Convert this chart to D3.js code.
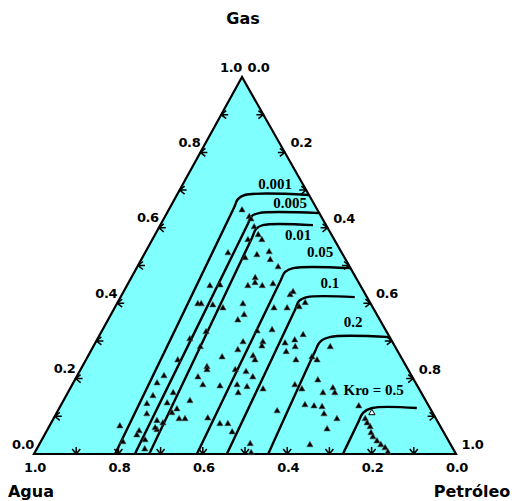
<!DOCTYPE html>
<html>
<head>
<meta charset="utf-8">
<script src="https://cdn.jsdelivr.net/npm/d3@7"></script>
<style>
  html, body { margin: 0; padding: 0; background: #ffffff; }
  svg { display: block; }
</style>
</head>
<body>
<svg id="chart" width="512" height="501"></svg>
<script>
// ---- Data -----------------------------------------------------------------
// Oil relative permeability isoperms, each as [So, Sg] pairs (Sw = 1 - So - Sg)
const kroLabels = ["0.001", "0.005", "0.01", "0.05", "0.1", "0.2", "Kro = 0.5"];
const kro0001 = [[0.192, 0], [0.152, 0.653], [0.150, 0.676], [0.161, 0.687], [0.313, 0.687]];
const kro0005 = [[0.239, 0], [0.206, 0.610], [0.205, 0.631], [0.218, 0.639], [0.361, 0.639]];
const kro001  = [[0.273, 0], [0.234, 0.573], [0.232, 0.597], [0.243, 0.607], [0.362, 0.607]];
const kro005  = [[0.386, 0], [0.358, 0.456], [0.357, 0.483], [0.371, 0.493], [0.507, 0.493]];
const kro01   = [[0.457, 0], [0.430, 0.382], [0.428, 0.406], [0.442, 0.416], [0.555, 0.416]];
const kro02   = [[0.555, 0], [0.532, 0.271], [0.531, 0.297], [0.548, 0.310], [0.690, 0.310]];
const kro05   = [[0.732, 0], [0.727, 0.082], [0.726, 0.109], [0.741, 0.122], [0.847, 0.122]];
// where each isoperm value is written, as [So, Sg]
const kroLabelSo = [0.225, 0.285, 0.346, 0.420, 0.484, 0.590, 0.728];
const kroLabelSg = [0.703, 0.653, 0.568, 0.523, 0.440, 0.337, 0.156];

// Measured saturation states (filled triangles)
const sampleSo = [
  0.174, 0.200, 0.207, 0.225, 0.245, 0.260, 0.227, 0.268, 0.293, 0.306,
  0.334, 0.244, 0.294, 0.197, 0.220, 0.197, 0.287, 0.300, 0.321, 0.344,
  0.399, 0.402, 0.192, 0.200, 0.229, 0.257, 0.299, 0.316, 0.308, 0.378,
  0.409, 0.436, 0.445, 0.248, 0.368, 0.402, 0.349, 0.396, 0.399, 0.450,
  0.469, 0.482, 0.347, 0.464, 0.219, 0.254, 0.479, 0.562, 0.319, 0.391,
  0.401, 0.498, 0.532, 0.548, 0.218, 0.296, 0.300, 0.367, 0.395, 0.418,
  0.288, 0.206, 0.199, 0.310, 0.352, 0.391, 0.404, 0.417, 0.458, 0.528,
  0.550, 0.576, 0.622, 0.605, 0.633, 0.206, 0.250, 0.300, 0.202, 0.249,
  0.280, 0.273, 0.215, 0.248, 0.298, 0.312, 0.365, 0.401, 0.420, 0.441,
  0.520, 0.578, 0.601, 0.621, 0.635, 0.672, 0.707, 0.662, 0.642, 0.167,
  0.219, 0.260, 0.195, 0.245, 0.256, 0.499, 0.513, 0.739, 0.749, 0.761,
  0.771, 0.781, 0.796, 0.810, 0.824, 0.836, 0.265, 0.253, 0.219
];
const sampleSg = [
  0.647, 0.629, 0.623, 0.602, 0.581, 0.568, 0.568, 0.528, 0.536, 0.515,
  0.496, 0.520, 0.467, 0.533, 0.448, 0.446, 0.446, 0.454, 0.446, 0.451,
  0.422, 0.430, 0.398, 0.398, 0.395, 0.387, 0.398, 0.369, 0.355, 0.387,
  0.387, 0.390, 0.401, 0.324, 0.326, 0.329, 0.297, 0.297, 0.286, 0.294,
  0.302, 0.316, 0.276, 0.271, 0.305, 0.284, 0.284, 0.284, 0.257, 0.260,
  0.249, 0.249, 0.257, 0.249, 0.249, 0.231, 0.223, 0.223, 0.218, 0.204,
  0.204, 0.207, 0.188, 0.183, 0.180, 0.183, 0.162, 0.178, 0.172, 0.183,
  0.172, 0.196, 0.175, 0.162, 0.162, 0.154, 0.162, 0.141, 0.133, 0.135,
  0.119, 0.109, 0.106, 0.088, 0.093, 0.093, 0.095, 0.080, 0.080, 0.058,
  0.114, 0.130, 0.127, 0.125, 0.106, 0.093, 0.127, 0.066, 0.024, 0.074,
  0.061, 0.064, 0.032, 0.037, 0.013, 0.027, 0.003, 0.093, 0.082, 0.072,
  0.056, 0.045, 0.034, 0.024, 0.016, 0.005, 0.082, 0.069, 0.050
];
// Single open triangle
const openSo = [0.747];
const openSg = [0.109];

// Axis graduations
const majorTicks = [0, 0.2, 0.4, 0.6, 0.8, 1.0];
const majorTickText = ["0.0", "0.2", "0.4", "0.6", "0.8", "1.0"];
const minorTicks = [0.1, 0.2, 0.3, 0.4, 0.5, 0.6, 0.7, 0.8, 0.9];

// ---- Ternary frame --------------------------------------------------------
const cornerWater = { x: 34, y: 454 };
const cornerGas   = { x: 242, y: 77 };
const cornerOil   = { x: 456, y: 454 };

const soShift = d3.scaleLinear().domain([0, 1]).range([0, cornerOil.x - cornerWater.x]);
const sgShift = d3.scaleLinear().domain([0, 1]).range([0, cornerGas.x - cornerWater.x]);
const sgY     = d3.scaleLinear().domain([0, 1]).range([cornerWater.y, cornerGas.y]);

const px = (so, sg) => cornerWater.x + soShift(so) + sgShift(sg);
const py = (so, sg) => sgY(sg);

const svg = d3.select("#chart");
const ink = "#000000";

// Triangle body
const frame = [[0, 0], [1, 0], [0, 1]];
svg.append("path")
  .attr("d", d3.line().x(d => px(d[0], d[1])).y(d => py(d[0], d[1]))(frame) + "Z")
  .attr("fill", "#80ffff")
  .attr("stroke", ink)
  .attr("stroke-width", 2.2)
  .attr("stroke-linejoin", "miter");

// Arrow-style graduations on the three sides
const tickG = svg.append("g")
  .attr("fill", "none").attr("stroke", ink).attr("stroke-width", 1.5);
function arrowTo(x, y, dx, dy) {
  // arrow ending at (x, y), coming from direction (dx, dy)
  const nx = -dy, ny = dx;
  const tail = 7, head = 5, spread = 4;
  return `M${x + dx * tail},${y + dy * tail}L${x},${y}` +
         `M${x + dx * head + nx * spread},${y + dy * head + ny * spread}L${x},${y}` +
         `L${x + dx * head - nx * spread},${y + dy * head - ny * spread}`;
}
minorTicks.forEach(t => {
  // gas side (left)
  tickG.append("path").attr("d", arrowTo(px(0, t), py(0, t), 1, 0));
  // oil side (right)
  tickG.append("path").attr("d", arrowTo(px(t, 1 - t), py(t, 1 - t), -1, 0));
  // water side (bottom)
  tickG.append("path").attr("d", arrowTo(px(1 - t, 0), py(1 - t, 0), 0, -1));
});

// Graduation labels
const lab = svg.append("g")
  .attr("font-family", "'DejaVu Sans', Verdana, sans-serif")
  .attr("font-weight", "bold")
  .attr("font-size", 13)
  .attr("letter-spacing", -0.4)
  .attr("fill", ink)
  .attr("text-anchor", "middle");
majorTicks.forEach((t, i) => {
  lab.append("text").attr("x", px(0, t) - 11).attr("y", py(0, t) - 5.5).text(majorTickText[i]);
  lab.append("text").attr("x", px(t, 1 - t) + 16.5).attr("y", py(t, 1 - t) - 5).text(majorTickText[i]);
  lab.append("text").attr("x", px(1 - t, 0) + 1).attr("y", py(1 - t, 0) + 18).text(majorTickText[i]);
});

// Corner titles
const title = svg.append("g")
  .attr("font-family", "'DejaVu Sans', Verdana, sans-serif")
  .attr("font-weight", "bold")
  .attr("font-size", 16)
  .attr("fill", ink)
  .attr("text-anchor", "middle");
title.append("text").attr("x", 243).attr("y", 24).text("Gas");
title.append("text").attr("x", 31).attr("y", 497).text("Agua");
title.append("text").attr("x", 472).attr("y", 497).text("Petróleo");

// Isoperm curves
const kroCurves = [kro0001, kro0005, kro001, kro005, kro01, kro02, kro05];
const curveLine = d3.line()
  .x(d => px(d[0], d[1]))
  .y(d => py(d[0], d[1]))
  .curve(d3.curveCatmullRom.alpha(0.5));
svg.append("g")
  .selectAll("path")
  .data(kroCurves)
  .join("path")
  .attr("d", curveLine)
  .attr("fill", "none")
  .attr("stroke", ink)
  .attr("stroke-width", 2.4)
  .attr("stroke-linecap", "butt")
  .attr("stroke-linejoin", "round");

// Sample points
const tri = d3.symbol().type(d3.symbolTriangle).size(17);
const samples = sampleSo.map((so, i) => [so, sampleSg[i]]);
svg.append("g")
  .selectAll("path")
  .data(samples)
  .join("path")
  .attr("transform", d => `translate(${px(d[0], d[1])},${py(d[0], d[1])})`)
  .attr("d", tri)
  .attr("fill", ink)
  .attr("stroke", "#555")
  .attr("stroke-width", 0.6);
svg.append("g")
  .selectAll("path")
  .data(openSo.map((so, i) => [so, openSg[i]]))
  .join("path")
  .attr("transform", d => `translate(${px(d[0], d[1])},${py(d[0], d[1])})`)
  .attr("d", tri)
  .attr("fill", "#ffffff")
  .attr("stroke", ink)
  .attr("stroke-width", 1);

// Isoperm values
svg.append("g")
  .attr("font-family", "'Liberation Serif', 'Times New Roman', serif")
  .attr("font-weight", "bold")
  .attr("font-size", 15)
  .attr("fill", ink)
  .attr("text-anchor", "middle")
  .selectAll("text")
  .data(kroLabels)
  .join("text")
  .attr("x", (d, i) => px(kroLabelSo[i], kroLabelSg[i]))
  .attr("y", (d, i) => py(kroLabelSo[i], kroLabelSg[i]))
  .text(d => d);
</script>
</body>
</html>
